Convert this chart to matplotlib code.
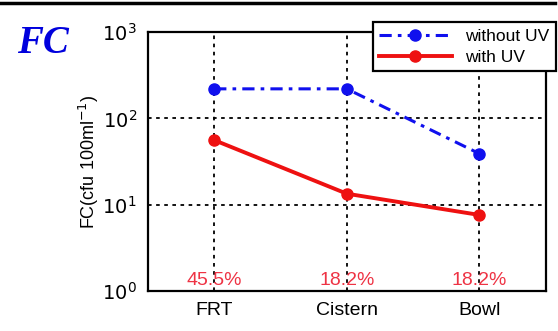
import numpy as np
import matplotlib
matplotlib.use("Agg")
import matplotlib.pyplot as plt

plt.rcParams['font.family'] = ['Liberation Sans', 'DejaVu Sans']

# data
sites = ['FRT', 'Cistern', 'Bowl']
without_uv = [220, 220, 39]
with_uv = [56, 13.4, 7.6]
pct_labels = ['45.5%', '18.2%', '18.2%']

x = np.arange(1, len(sites) + 1)

fig = plt.figure(figsize=(5.58, 3.31), dpi=100)
ax = fig.add_axes([0.265, 0.121, 0.713, 0.782])

ax.plot(x, without_uv, color='#1010ee', linestyle=(0, (4, 2, 1.2, 2)), linewidth=2.2,
        marker='o', markersize=8, label='without UV')
ax.plot(x, with_uv, color='#ee1111', linestyle='-', linewidth=2.8,
        marker='o', markersize=8, label='with UV')

ax.set_yscale('log')
ax.set_ylim(1, 1000)
ax.set_xlim(0.5, 3.5)
ax.set_xticks(x)
ax.set_xticklabels(sites, fontsize=14)
ax.set_yticks([1, 10, 100, 1000])
ax.set_yticklabels([r'$10^{0}$', r'$10^{1}$', r'$10^{2}$', r'$10^{3}$'], fontsize=14)
ax.minorticks_off()
ax.tick_params(direction='in', length=0, pad=8)
ax.grid(True, color='black', linestyle=(0, (2, 2.5)), linewidth=1.3)
for s in ax.spines.values():
    s.set_linewidth(1.6)

ax.set_ylabel(r'FC(cfu 100ml$^{-1}$)', fontsize=13, labelpad=1)

for xi, t in zip(x, pct_labels):
    ax.text(xi, 1.33, t, color='#ee3344', fontsize=14, ha='center', va='center')

leg = ax.legend(loc='upper right', bbox_to_anchor=(1.047, 1.071), fontsize=12.5,
                frameon=True, fancybox=False, edgecolor='black', framealpha=1,
                handlelength=4.2, borderpad=0.35, labelspacing=0.35)
leg.get_frame().set_linewidth(1.6)

fig.text(0.03, 0.87, 'FC', color='#0000dd', fontsize=28, fontweight='bold',
         fontstyle='italic', family='Liberation Serif', va='center')
fig.add_artist(plt.Line2D([0, 0.995], [0.99, 0.99], color='black', linewidth=2.5))

fig.savefig('out.png', dpi=100)
